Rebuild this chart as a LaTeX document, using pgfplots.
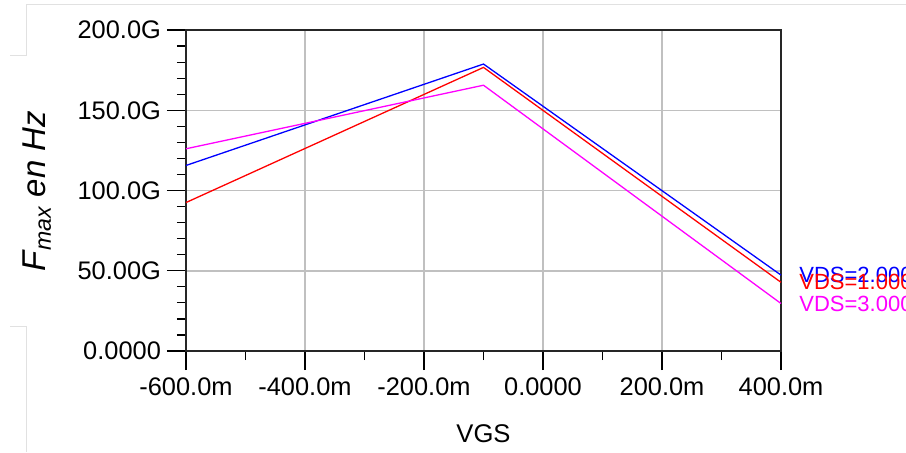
\documentclass[border=0pt]{standalone}
\usepackage{pgfplots}
\pgfplotsset{compat=1.18}
\usepackage{fontspec}
\setmainfont{Liberation Sans}
\definecolor{gridgray}{RGB}{192,192,192}
\definecolor{framegray}{RGB}{225,225,225}
\definecolor{cblue}{RGB}{0,0,255}
\definecolor{cred}{RGB}{255,0,0}
\definecolor{cmag}{RGB}{255,0,255}
\begin{document}
\begin{tikzpicture}
\useasboundingbox (-93pt,-50.5pt) rectangle (360pt,175.5pt);
\clip (-93pt,-50.5pt) rectangle (360pt,175.5pt);
% faint screenshot frame lines
\draw[framegray, line width=0.5pt] (-79.5pt,173.5pt) -- (360pt,173.5pt);
\draw[framegray, line width=0.5pt] (-79.5pt,173.5pt) -- (-79.5pt,148pt) -- (-88pt,148pt);
\draw[framegray, line width=0.5pt] (-88pt,12.5pt) -- (-79.5pt,12.5pt) -- (-79.5pt,-50.5pt);
\begin{axis}[
  at={(0,0)}, anchor=south west,
  scale only axis, width=297.5pt, height=160.5pt,
  xmin=-0.6, xmax=0.4, ymin=0, ymax=200,
  xtick={-0.6,-0.4,-0.2,0,0.2,0.4},
  xticklabels={-600.0m,-400.0m,-200.0m,0.0000,200.0m,400.0m},
  ytick={0,50,100,150,200},
  yticklabels={0.0000,50.00G,100.0G,150.0G,200.0G},
  minor xtick={-0.5,-0.3,-0.1,0.1,0.3},
  minor ytick={10,20,30,40,60,70,80,90,110,120,130,140,160,170,180,190},
  xtick pos=bottom, ytick pos=left,
  tick align=outside,
  major tick length=9.5pt, minor tick length=4.5pt,
  every tick/.style={black, line width=0.6pt},
  axis line style={black!85, line width=0.8pt},
  grid=major,
  major grid style={gridgray, line width=0.75pt},
  minor grid style={draw=none},
  tick label style={font=\fontsize{12.7}{14}\selectfont},
  xticklabel style={yshift=-0.5pt},
  yticklabel style={xshift=0.5pt},
  clip=false,
]
\addplot[cblue, line width=0.65pt] coordinates {(-0.6,115.6) (-0.1,178.8) (0.4,47.3)};
\addplot[cred, line width=0.65pt] coordinates {(-0.6,92.5) (-0.1,176.7) (0.4,42.8)};
\addplot[cmag, line width=0.65pt] coordinates {(-0.6,126) (-0.1,165.6) (0.4,29.6)};
\node[cblue, anchor=west, xshift=9pt, font=\fontsize{11}{13}\selectfont, inner sep=0pt] at (axis cs:0.4,47.3) {VDS=2.000};
\node[cred, anchor=west, xshift=9pt, font=\fontsize{11}{13}\selectfont, inner sep=0pt] at (axis cs:0.4,42.8) {VDS=1.000};
\node[cmag, anchor=west, xshift=9pt, font=\fontsize{11}{13}\selectfont, inner sep=0pt] at (axis cs:0.4,29.6) {VDS=3.000};
\end{axis}
\node[font=\fontsize{12.8}{15}\selectfont] at (148.75pt,-41.5pt) {VGS};
\node[rotate=90, font=\fontsize{16.5}{19}\selectfont\itshape] at (-74.5pt,80pt) {F\textsubscript{max} en Hz};
\end{tikzpicture}
\end{document}
